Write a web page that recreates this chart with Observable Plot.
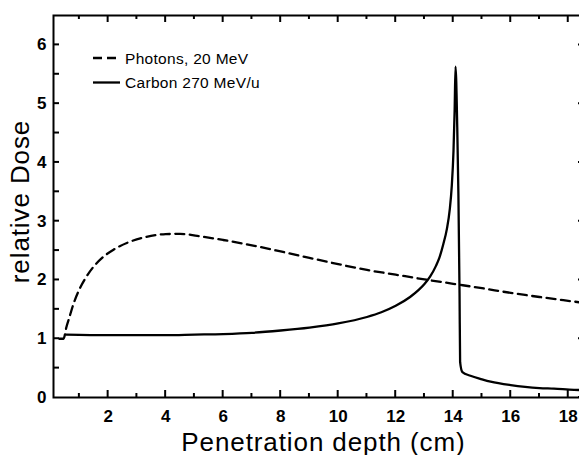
<!DOCTYPE html>
<html><head><meta charset="utf-8">
<script src="https://cdn.jsdelivr.net/npm/d3@7"></script>
<script src="https://cdn.jsdelivr.net/npm/@observablehq/plot@0.6"></script>
<style>
html,body{margin:0;padding:0;background:#fff;overflow:hidden;}
#wrap{position:relative;width:579px;height:455px;overflow:hidden;}
#wrap svg.main{max-width:none;display:block;}
#overlay{position:absolute;left:0;top:0;pointer-events:none;}
</style></head><body><div id="wrap"></div>
<script>
// Photons, 20 MeV (dashed)
const photonDepth = [0.3, 0.45, 0.55, 0.65, 0.8, 1.0, 1.2, 1.5, 1.8, 2.2, 2.7, 3.3, 4.0, 4.5, 5.1, 6, 7, 8, 9, 10, 11, 12, 13, 14, 15, 16, 17, 18, 18.63];
const photonDose  = [1.0, 1.0, 1.2, 1.36, 1.6, 1.84, 2.02, 2.23, 2.38, 2.52, 2.64, 2.73, 2.78, 2.785, 2.75, 2.68, 2.59, 2.485, 2.375, 2.27, 2.17, 2.09, 2.01, 1.935, 1.86, 1.78, 1.71, 1.645, 1.605];
// Carbon 270 MeV/u (solid)
const carbonDepth = [0.54, 2, 4, 5, 6, 7, 8, 9, 10, 11, 11.5, 12, 12.5, 12.8, 13.0, 13.2, 13.4, 13.52, 13.65, 13.78, 13.88, 13.95, 14.01, 14.05, 14.08, 14.14, 14.18, 14.22, 14.24, 14.32, 14.6, 15.0, 15.3, 16.0, 16.5, 17.0, 17.5, 18.2, 18.63];
const carbonDose  = [1.07, 1.06, 1.06, 1.07, 1.08, 1.1, 1.14, 1.19, 1.26, 1.37, 1.45, 1.56, 1.71, 1.83, 1.93, 2.06, 2.24, 2.38, 2.6, 2.87, 3.2, 3.6, 4.2, 4.9, 5.63, 4.6, 3.47, 1.77, 0.6, 0.43, 0.37, 0.31, 0.27, 0.21, 0.18, 0.16, 0.15, 0.13, 0.125];

const xTickLabels = [2, 4, 6, 8, 10, 12, 14, 16, 18];
const xOddTicks = [1, 3, 5, 7, 9, 11, 13, 15, 17];
const yTickLabels = [0, 1, 2, 3, 4, 5, 6];
const yHalfTicks = [0.5, 1, 1.5, 2, 2.5, 3, 3.5, 4, 4.5, 5, 5.5, 6];
const xTitle = "Penetration depth (cm)";
const yTitle = "relative Dose";
const seriesNames = ["Photons, 20 MeV", "Carbon 270 MeV/u"];
const seriesDash = ["9,5", null];

const photons = photonDepth.map((d, i) => ({depth: d, dose: photonDose[i]}));
const carbon = carbonDepth.map((d, i) => ({depth: d, dose: carbonDose[i]}));

const W = 585, H = 455, ML = 53, MR = 0, MT = 15, MB = 58;
const xDom = [0.1, 18.6], yDom = [0, 6.5];

const chart = Plot.plot({
  width: W, height: H,
  marginLeft: ML, marginRight: MR, marginTop: MT, marginBottom: MB,
  x: {domain: xDom},
  y: {domain: yDom},
  style: {fontFamily: "'Liberation Sans', Arial, sans-serif", fontSize: "17px", fontWeight: "bold", color: "#000", background: "#fff"},
  marks: [
    Plot.frame({stroke: "#000", strokeWidth: 2}),
    Plot.axisX(xTickLabels, {tickSize: 0, tickPadding: 12, tickFormat: "d", label: null}),
    Plot.axisY(yTickLabels, {tickSize: 0, tickPadding: 7, tickFormat: "d", label: null}),
    Plot.line(photons, {x: "depth", y: "dose", stroke: "#000", strokeWidth: 2.3, strokeDasharray: "9,5.5", curve: "monotone-x"}),
    Plot.line(carbon, {x: "depth", y: "dose", stroke: "#000", strokeWidth: 2.3, curve: "monotone-x"}),
    Plot.text([xTitle], {frameAnchor: "bottom", lineAnchor: "bottom", textAnchor: "middle", dy: 53, dx: 4, fontSize: 26, fontWeight: "normal"}),
    Plot.text([yTitle], {frameAnchor: "left", lineAnchor: "bottom", textAnchor: "middle", rotate: -90, dx: -25, dy: -5, fontSize: 26, fontWeight: "normal"})
  ]
});
chart.classList.add("main");
d3.select(chart).selectAll("text").filter(function() { return this.textContent === xTitle || this.textContent === yTitle; })
  .attr("letter-spacing", "0.9");
document.getElementById("wrap").appendChild(chart);

// inward tick marks on all four sides, positioned with the chart's own scales
const sx = chart.scale("x"), sy = chart.scale("y");
const px0 = sx.apply(xDom[0]), px1 = sx.apply(xDom[1]);
const py0 = sy.apply(yDom[0]), py1 = sy.apply(yDom[1]);
const ov = d3.select("#wrap").append("svg").attr("id", "overlay").attr("width", 579).attr("height", 455);
const tk = ov.append("g").attr("stroke", "#000").attr("stroke-width", 2);
const vt = (vals, len, yBase, dir) => tk.selectAll(null).data(vals).join("line")
  .attr("x1", d => sx.apply(d)).attr("x2", d => sx.apply(d))
  .attr("y1", yBase).attr("y2", yBase + dir * len);
vt(xTickLabels, 7, py0, -1); vt(xOddTicks, 4, py0, -1);
vt(xTickLabels, 7, py1, 1);  vt(xOddTicks, 4, py1, 1);
const ht = (vals, len, xBase, dir) => tk.selectAll(null).data(vals).join("line")
  .attr("y1", d => sy.apply(d)).attr("y2", d => sy.apply(d))
  .attr("x1", xBase).attr("x2", xBase + dir * len);
ht(yHalfTicks, 6, px0, 1);
ht(yTickLabels, 7, px1, -1);

// legend inside the plot area
const rows = ov.selectAll("g.row").data(seriesNames).join("g").attr("class", "row")
  .attr("transform", (d, i) => `translate(93, ${58 + i * 24.5})`);
rows.append("line").attr("x1", 0).attr("x2", (d, i) => i === 0 ? 23 : 27).attr("y1", 0).attr("y2", 0)
  .attr("stroke", "#000").attr("stroke-width", 2.3)
  .attr("stroke-dasharray", (d, i) => seriesDash[i]);
rows.append("text").attr("x", 32).attr("y", 0).attr("dy", "0.36em")
  .attr("font-family", "'Liberation Sans', Arial, sans-serif").attr("font-size", 15.5)
  .attr("letter-spacing", "0.3").text(d => d);
</script></body></html>
